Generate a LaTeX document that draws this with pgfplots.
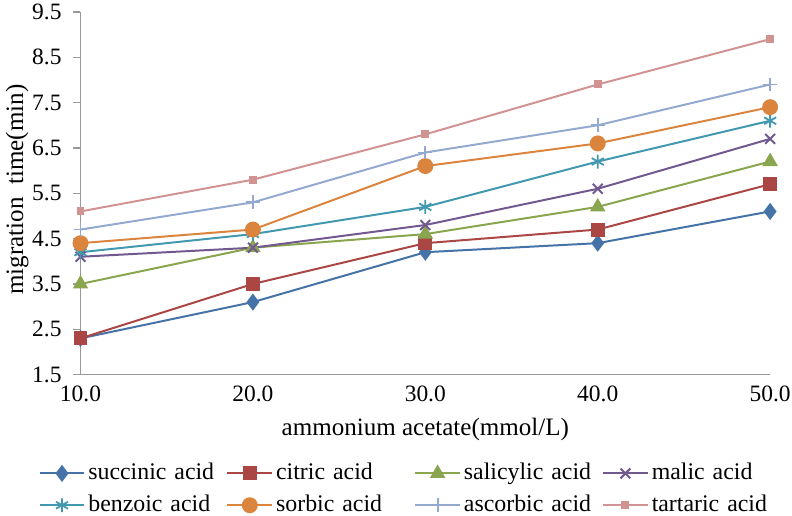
\documentclass[border=0pt]{standalone}
\usepackage{pgfplots}
\pgfplotsset{compat=1.18}
\usepackage{fontspec}
\setmainfont{Liberation Serif}
\definecolor{cA}{HTML}{4572A7}
\definecolor{cB}{HTML}{AA4643}
\definecolor{cC}{HTML}{89A54E}
\definecolor{cD}{HTML}{71588F}
\definecolor{cE}{HTML}{4198AF}
\definecolor{cF}{HTML}{DB843D}
\definecolor{cG}{HTML}{93A9CF}
\definecolor{cH}{HTML}{D19392}
\begin{document}
\begin{tikzpicture}
\useasboundingbox (-40.5pt,-71pt) rectangle (358pt,188.5pt);
\begin{axis}[
  at={(0,0)}, anchor=south west,
  scale only axis,
  width=347pt, height=182.5pt,
  xmin=10, xmax=50, ymin=1.5, ymax=9.5,
  xtick={10,20,30,40,50},
  ytick={1.5,2.5,...,9.5},
  xticklabels={10.0,20.0,30.0,40.0,50.0},
  yticklabels={1.5,2.5,3.5,4.5,5.5,6.5,7.5,8.5,9.5},
  axis x line*=bottom, axis y line*=left,
  axis line style={gray!80, line width=0.6pt, -},
  major tick length=4pt,
  ytick align=outside,
  ytick style={gray!80, line width=0.6pt},
  xtick style={draw=none},
  tick label style={font=\fontsize{11.8}{14}\selectfont},
  xticklabel style={yshift=-2pt},
  yticklabel style={xshift=-2pt},
  clip=false,
  xlabel={ammonium acetate(mmol/L)},
  ylabel={migration\ \ time(min)},
  label style={font=\fontsize{12.6}{14}\selectfont},
  xlabel style={at={(axis description cs:0.5,-0.15)}, anchor=center},
  ylabel style={at={(axis description cs:-0.092,0.51)}, anchor=center},
  every axis plot/.append style={line width=1pt},
  legend columns=4,
  legend style={
    draw=none, at={(0.484,-0.222)}, anchor=north,
    font=\fontsize{12}{14}\selectfont,
    column sep=0pt,
    nodes={text width=68pt, align=left, inner sep=1.5pt, text height=8.5pt, text depth=2.5pt},
    row sep=2pt,
  },
  legend image code/.code={
    \draw[mark repeat=2,mark phase=2] plot coordinates {(0pt,0pt) (11.25pt,0pt) (22.5pt,0pt)};
  },
]
\addplot[cA, mark=diamond*, mark size=3.5pt] coordinates {(10,2.3) (20,3.1) (30,4.2) (40,4.4) (50,5.1)};
\addlegendentry{succinic acid}
\addplot[cB, mark=square*, mark size=3pt] coordinates {(10,2.3) (20,3.5) (30,4.4) (40,4.7) (50,5.7)};
\addlegendentry{citric acid}
\addplot[cC, mark=triangle*, mark size=3.5pt] coordinates {(10,3.5) (20,4.3) (30,4.6) (40,5.2) (50,6.2)};
\addlegendentry{salicylic acid}
\addplot[cD, mark=x, mark size=3.5pt, mark options={line width=1pt}] coordinates {(10,4.1) (20,4.3) (30,4.8) (40,5.6) (50,6.7)};
\addlegendentry{malic acid}
\addplot[cE, mark=asterisk, mark size=3.5pt, mark options={line width=0.9pt}] coordinates {(10,4.2) (20,4.6) (30,5.2) (40,6.2) (50,7.1)};
\addlegendentry{benzoic acid}
\addplot[cF, mark=*, mark size=3.5pt] coordinates {(10,4.4) (20,4.7) (30,6.1) (40,6.6) (50,7.4)};
\addlegendentry{sorbic acid}
\addplot[cG, mark=+, mark size=3.5pt, mark options={line width=0.9pt}] coordinates {(10,4.7) (20,5.3) (30,6.4) (40,7.0) (50,7.9)};
\addlegendentry{ascorbic acid}
\addplot[cH, mark=square*, mark size=1.5pt] coordinates {(10,5.1) (20,5.8) (30,6.8) (40,7.9) (50,8.9)};
\addlegendentry{tartaric acid}
\end{axis}
\end{tikzpicture}
\end{document}
